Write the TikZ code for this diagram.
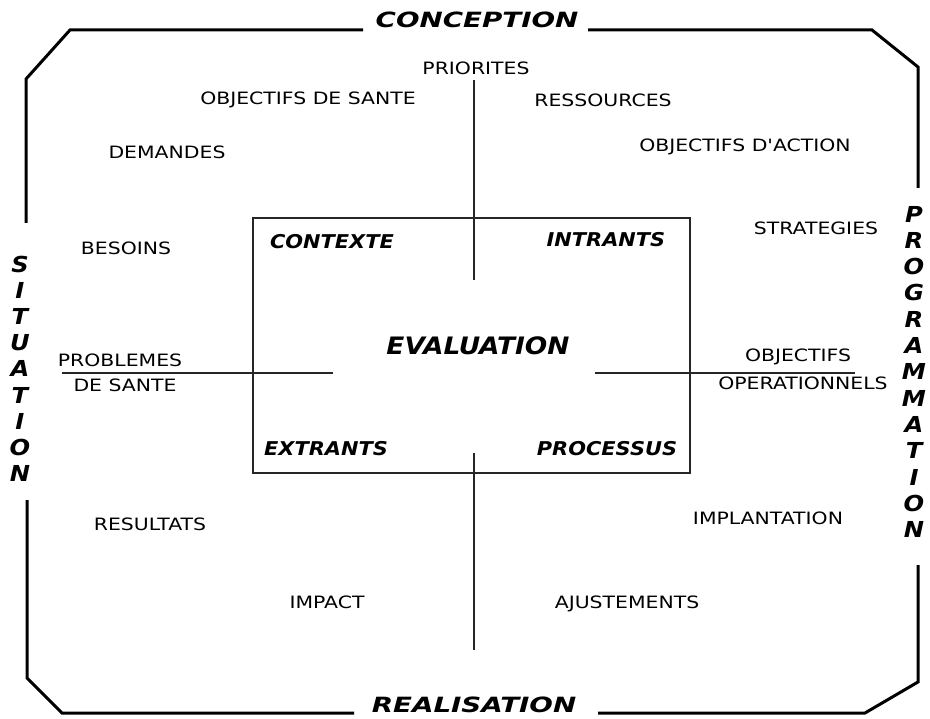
\documentclass[tikz,border=0pt]{standalone}
\usepackage{fontspec}
\setmainfont{DejaVu Sans}
\newfontfamily\labfont[FakeStretch=1.2]{DejaVu Sans}
\newfontfamily\bigfont[FakeStretch=1.1]{DejaVu Sans}
\newfontfamily\sidefont[FakeStretch=1.32]{DejaVu Sans}
\begin{document}
\begin{tikzpicture}[x=1pt,y=-1pt,
  frame/.style={line width=3pt,line join=miter},
  thin/.style={line width=1.4pt,black!85},
  lbl/.style={font=\labfont\fontsize{17}{18}\selectfont,inner sep=0pt,anchor=center},
  quad/.style={font=\bigfont\bfseries\itshape\fontsize{19}{20}\selectfont,inner sep=0pt},
  side/.style={font=\sidefont\bfseries\itshape\fontsize{21}{22}\selectfont,inner sep=0pt},
  vlet/.style={font=\bigfont\bfseries\itshape\fontsize{22}{22}\selectfont,inner sep=0pt}]
\useasboundingbox (0,0) rectangle (930,719);
% outer frame
\coordinate (tl1) at (363,30); \coordinate (tl2) at (70,30); \coordinate (tl3) at (26,79); \coordinate (tl4) at (26,223);
\coordinate (bl1) at (27,500); \coordinate (bl2) at (27,678); \coordinate (bl3) at (62,713); \coordinate (bl4) at (354,713);
\coordinate (br1) at (598,713); \coordinate (br2) at (865,713); \coordinate (br3) at (918,682); \coordinate (br4) at (918,565);
\coordinate (tr1) at (918,188); \coordinate (tr2) at (918,67); \coordinate (tr3) at (872,30); \coordinate (tr4) at (588,30);
\draw[frame] (tl1) -- (tl2) -- (tl3) -- (tl4);
\draw[frame] (bl1) -- (bl2) -- (bl3) -- (bl4);
\draw[frame] (br1) -- (br2) -- (br3) -- (br4);
\draw[frame] (tr1) -- (tr2) -- (tr3) -- (tr4);
% side titles
\node[side] (conc) at (477,20) {CONCEPTION};
\node[side] (real) at (474,705) {REALISATION};
\foreach \l [count=\i] in {S,I,T,U,A,T,I,O,N}
  \node[vlet] (sit\i) at (20,{264+26.2*(\i-1)}) {\l};
\foreach \l [count=\i] in {P,R,O,G,R,A,M,M,A,T,I,O,N}
  \node[vlet] (prog\i) at (914,{214+26.3*(\i-1)}) {\l};
% inner box
\node[draw,thin,minimum width=437pt,minimum height=255pt,inner sep=0pt] (box) at (471.5,345.5) {};
\coordinate (vt) at (474,80); \coordinate (vt2) at (474,280);
\coordinate (vb) at (474,453); \coordinate (vb2) at (474,650);
\coordinate (hl) at (62,373); \coordinate (hl2) at (333,373);
\coordinate (hr) at (595,373); \coordinate (hr2) at (855,373);
\draw[thin] (vt) -- (vt2);
\draw[thin] (vb) -- (vb2);
\draw[thin] (hl) -- (hl2);
\draw[thin] (hr) -- (hr2);
% quadrant labels
\node[quad] (ctx) at (332,242) {CONTEXTE};
\node[quad] (intr) at (606,240) {INTRANTS};
\node[quad] (extr) at (326,449) {EXTRANTS};
\node[quad] (proc) at (607,449) {PROCESSUS};
\node[quad,font=\bigfont\bfseries\itshape\fontsize{24}{24}\selectfont] (eval) at (478,346) {EVALUATION};
% small labels
\node[lbl] (prio) at (476,68) {PRIORITES};
\node[lbl] (objs) at (308,100) {OBJECTIFS DE SANTE};
\node[lbl] (ress) at (603,100) {RESSOURCES};
\node[lbl] (dem) at (167,152) {DEMANDES};
\node[lbl] (obja) at (745,147) {OBJECTIFS D'ACTION};
\node[lbl] (bes) at (126,248) {BESOINS};
\node[lbl] (strat) at (816,228) {STRATEGIES};
\node[lbl] (prob1) at (120,360) {PROBLEMES};
\node[lbl] (prob2) at (125,385) {DE SANTE};
\node[lbl] (objo1) at (798,357) {OBJECTIFS};
\node[lbl] (objo2) at (803,383) {OPERATIONNELS};
\node[lbl] (res) at (150,524) {RESULTATS};
\node[lbl] (impl) at (768,518) {IMPLANTATION};
\node[lbl] (imp) at (327,602) {IMPACT};
\node[lbl] (aju) at (627,604) {AJUSTEMENTS};
\end{tikzpicture}
\end{document}
